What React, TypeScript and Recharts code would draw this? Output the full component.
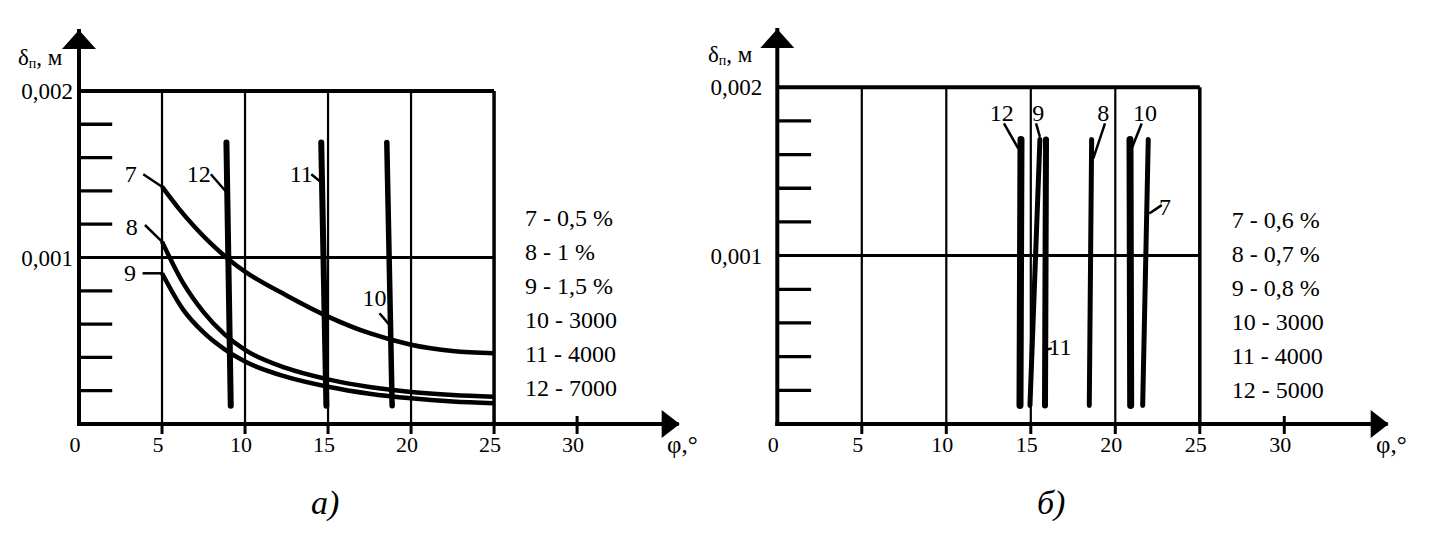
import { LineChart, Line, XAxis, YAxis, ReferenceLine, ReferenceDot, Legend } from "recharts";

const FONT = "'Liberation Serif', 'Times New Roman', serif";

// shared axes
const DEG_TICKS = [0, 5, 10, 15, 20, 25, 30];
const VALUE_TICKS = [0.001, 0.002];
const MINOR_TICKS = [0.0002, 0.0004, 0.0006, 0.0008, 0.0012, 0.0014, 0.0016, 0.0018];
const GRID_DEG = [5, 10, 15, 20];

// а) curves 7-9 (delta vs phi)
const a7 = [
  { x: 5, y: 0.001425 }, { x: 6, y: 0.001295 }, { x: 7, y: 0.00118 }, { x: 8, y: 0.001078 },
  { x: 9, y: 0.00099 }, { x: 10, y: 0.000915 }, { x: 12.5, y: 0.000772 }, { x: 15, y: 0.000645 },
  { x: 17.5, y: 0.000545 }, { x: 20, y: 0.000476 }, { x: 22.5, y: 0.000438 }, { x: 25, y: 0.000425 },
];
const a8 = [
  { x: 5, y: 0.001095 }, { x: 6.25, y: 0.00085 }, { x: 7.5, y: 0.000672 }, { x: 8.75, y: 0.00054 },
  { x: 10, y: 0.000445 }, { x: 12.5, y: 0.000335 }, { x: 15, y: 0.000268 }, { x: 17.5, y: 0.000222 },
  { x: 20, y: 0.000192 }, { x: 22.5, y: 0.000174 }, { x: 25, y: 0.000164 },
];
const a9 = [
  { x: 5, y: 0.000905 }, { x: 6.25, y: 0.00069 }, { x: 7.5, y: 0.00055 }, { x: 8.75, y: 0.00045 },
  { x: 10, y: 0.000375 }, { x: 12.5, y: 0.000283 }, { x: 15, y: 0.000224 }, { x: 17.5, y: 0.000182 },
  { x: 20, y: 0.000154 }, { x: 22.5, y: 0.000135 }, { x: 25, y: 0.000124 },
];
// а) lines 10-12
const a10 = [{ x: 18.54, y: 0.00169 }, { x: 18.86, y: 0.00011 }];
const a11 = [{ x: 14.59, y: 0.00169 }, { x: 14.9, y: 0.00011 }];
const a12 = [{ x: 8.88, y: 0.00169 }, { x: 9.14, y: 0.00011 }];

// б) lines 7-12
const b7 = [{ x: 21.95, y: 0.00169 }, { x: 21.62, y: 0.00011 }];
const b8 = [{ x: 18.6, y: 0.00169 }, { x: 18.46, y: 0.00011 }];
const b9 = [{ x: 15.54, y: 0.00169 }, { x: 14.95, y: 0.00011 }];
const b10 = [{ x: 20.87, y: 0.00169 }, { x: 20.91, y: 0.00011 }];
const b11 = [{ x: 15.9, y: 0.00169 }, { x: 15.84, y: 0.00011 }];
const b12 = [{ x: 14.42, y: 0.00169 }, { x: 14.36, y: 0.00011 }];

const NAMES_A = ["7 - 0,5 %", "8 - 1 %", "9 - 1,5 %", "10 - 3000", "11 - 4000", "12 - 7000"];
const NAMES_B = ["7 - 0,6 %", "8 - 0,7 %", "9 - 0,8 %", "10 - 3000", "11 - 4000", "12 - 5000"];

type Pt = { x: number; y: number };
interface Series { name: string; data: Pt[]; curve: boolean; w: number }
interface Note { text: string; at: Pt; from: Pt; to: Pt }

const SERIES_A: Series[] = [
  { name: NAMES_A[0], data: a7, curve: true, w: 4.5 },
  { name: NAMES_A[1], data: a8, curve: true, w: 4.5 },
  { name: NAMES_A[2], data: a9, curve: true, w: 4.5 },
  { name: NAMES_A[3], data: a10, curve: false, w: 5.5 },
  { name: NAMES_A[4], data: a11, curve: false, w: 6 },
  { name: NAMES_A[5], data: a12, curve: false, w: 6 },
];
const SERIES_B: Series[] = [
  { name: NAMES_B[0], data: b7, curve: false, w: 5 },
  { name: NAMES_B[1], data: b8, curve: false, w: 5 },
  { name: NAMES_B[2], data: b9, curve: false, w: 5 },
  { name: NAMES_B[3], data: b10, curve: false, w: 7 },
  { name: NAMES_B[4], data: b11, curve: false, w: 6 },
  { name: NAMES_B[5], data: b12, curve: false, w: 7 },
];

const NOTES_A: Note[] = [
  { text: "7", at: { x: 3.11, y: 0.0015 }, from: { x: 3.87, y: 0.0015 }, to: { x: 5, y: 0.001425 } },
  { text: "8", at: { x: 3.17, y: 0.001185 }, from: { x: 3.97, y: 0.001195 }, to: { x: 5, y: 0.001095 } },
  { text: "9", at: { x: 3.07, y: 0.000905 }, from: { x: 3.83, y: 0.000905 }, to: { x: 5, y: 0.000905 } },
  { text: "12", at: { x: 7.22, y: 0.0015 }, from: { x: 7.94, y: 0.0015 }, to: { x: 8.9, y: 0.00139 } },
  { text: "11", at: { x: 13.39, y: 0.0015 }, from: { x: 13.99, y: 0.0015 }, to: { x: 14.6, y: 0.00145 } },
  { text: "10", at: { x: 17.8, y: 0.000757 }, from: { x: 18.1, y: 0.000665 }, to: { x: 18.7, y: 0.000595 } },
];
const NOTES_B: Note[] = [
  { text: "12", at: { x: 13.28, y: 0.00185 }, from: { x: 13.41, y: 0.001785 }, to: { x: 14.26, y: 0.001636 } },
  { text: "9", at: { x: 15.44, y: 0.00185 }, from: { x: 15.31, y: 0.001785 }, to: { x: 15.54, y: 0.001705 } },
  { text: "8", at: { x: 19.29, y: 0.00185 }, from: { x: 19.39, y: 0.001785 }, to: { x: 18.7, y: 0.001577 } },
  { text: "10", at: { x: 21.76, y: 0.00185 }, from: { x: 21.56, y: 0.001785 }, to: { x: 20.97, y: 0.001636 } },
  { text: "7", at: { x: 22.94, y: 0.001286 }, from: { x: 22.75, y: 0.0013 }, to: { x: 22.01, y: 0.00125 } },
  { text: "11", at: { x: 16.73, y: 0.000459 }, from: { x: 16.24, y: 0.000449 }, to: { x: 15.96, y: 0.000443 } },
];

const fmt = (v: number) => v.toFixed(3).replace(".", ",");

function XTick(props: any) {
  const { x, y, payload } = props;
  const v = payload.value;
  const axisY = y - 12; // tickSize 10 + tickMargin 2
  return (
    <g>
      {v !== 0 && (
        <line x1={x} x2={x} y1={v === 30 ? axisY - 8 : axisY} y2={axisY + 10} stroke="#000" strokeWidth={3} />
      )}
      <text x={x - 4} y={axisY + 12} dy="0.71em" textAnchor="middle" fontSize={22} fontFamily={FONT} fill="#000">
        {v}
      </text>
    </g>
  );
}

const ArrowRight = (p: any) => (
  <path d={`M${p.cx + 3},${p.cy} L${p.cx - 15},${p.cy - 14} L${p.cx - 15},${p.cy + 14} Z`} fill="#000" />
);
const ArrowUp = (p: any) => (
  <path d={`M${p.cx},${p.cy - 1} L${p.cx - 17},${p.cy + 18} L${p.cx + 17},${p.cy + 18} Z`} fill="#000" />
);
const noteText = (t: string) => (p: any) => (
  <text x={p.cx} y={p.cy} textAnchor="middle" dominantBaseline="central" fontSize={24} fontFamily={FONT} fill="#000">
    {t}
  </text>
);

function LegendList(props: any) {
  const items = [...(props.payload || [])].sort(
    (a: any, b: any) => parseInt(a.value, 10) - parseInt(b.value, 10)
  );
  return (
    <div style={{ fontFamily: FONT, fontSize: 24, lineHeight: "34px", color: "#000", whiteSpace: "nowrap" }}>
      {items.map((it: any) => (
        <div key={it.value}>{it.value}</div>
      ))}
    </div>
  );
}

interface PanelProps {
  width: number;
  margin: { top: number; right: number; bottom: number; left: number };
  yAxisWidth: number;
  yTop: number;
  tickGap: number;
  series: Series[];
  notes: Note[];
  legendAt: { left: number; top: number };
}

function Panel({ width, margin, yAxisWidth, yTop, tickGap, series, notes, legendAt }: PanelProps) {
  return (
    <LineChart width={width} height={535} margin={margin}>
      <XAxis
        type="number"
        dataKey="x"
        domain={[0, 36]}
        ticks={DEG_TICKS}
        interval={0}
        allowDataOverflow
        height={30}
        axisLine={{ stroke: "#000", strokeWidth: 4, strokeLinecap: "square" }}
        tickLine={false}
        tickSize={10}
        tickMargin={2}
        tick={(p: any) => <XTick {...p} />}
      />
      <YAxis
        type="number"
        domain={[0, yTop]}
        ticks={VALUE_TICKS}
        interval={0}
        allowDataOverflow
        width={yAxisWidth}
        axisLine={{ stroke: "#000", strokeWidth: 4, strokeLinecap: "square" }}
        tickLine={false}
        tickSize={0}
        tickMargin={tickGap}
        tickFormatter={fmt}
        tick={{ fill: "#000", fontSize: 23, fontFamily: FONT }}
      />
      {GRID_DEG.map((d) => (
        <ReferenceLine key={"g" + d} segment={[{ x: d, y: 0 }, { x: d, y: 0.002 }]} stroke="#000" strokeWidth={2.2} />
      ))}
      <ReferenceLine segment={[{ x: 25, y: 0 }, { x: 25, y: 0.002 }]} stroke="#000" strokeWidth={3.5} />
      <ReferenceLine segment={[{ x: 0, y: 0.001 }, { x: 25, y: 0.001 }]} stroke="#000" strokeWidth={3} />
      <ReferenceLine segment={[{ x: 0, y: 0.002 }, { x: 25, y: 0.002 }]} stroke="#000" strokeWidth={4} />
      {MINOR_TICKS.map((v) => (
        <ReferenceLine key={"m" + v} segment={[{ x: 0, y: v }, { x: 2, y: v }]} stroke="#000" strokeWidth={3.3} />
      ))}
      {series.map((s) => (
        <Line
          key={s.name}
          name={s.name}
          data={s.data}
          dataKey="y"
          type={s.curve ? "monotone" : "linear"}
          stroke="#000"
          strokeWidth={s.w}
          strokeLinecap={s.curve ? "butt" : "round"}
          dot={false}
          activeDot={false}
          isAnimationActive={false}
        />
      ))}
      {notes.map((n) => (
        <ReferenceLine key={"l" + n.text} segment={[n.from, n.to]} stroke="#000" strokeWidth={2.5} />
      ))}
      {notes.map((n) => (
        <ReferenceDot key={"t" + n.text} x={n.at.x} y={n.at.y} r={0} ifOverflow="visible" shape={noteText(n.text)} />
      ))}
      <ReferenceDot x={36} y={0} r={0} ifOverflow="visible" shape={ArrowRight} />
      <ReferenceDot x={0} y={yTop} r={0} ifOverflow="visible" shape={ArrowUp} />
      <Legend
        layout="horizontal"
        verticalAlign="middle"
        align="center"
        wrapperStyle={{ left: legendAt.left, top: legendAt.top, width: 170, height: 210 }}
        content={(p: any) => <LegendList {...p} />}
      />
    </LineChart>
  );
}

const abs = (left: number, top: number): any => ({ position: "absolute", left, top });

export default function App() {
  const label = { fontFamily: FONT, fontSize: 22, color: "#000", lineHeight: "26px", whiteSpace: "nowrap" } as const;
  const caption = { fontFamily: FONT, fontSize: 34, fontStyle: "italic", color: "#000", lineHeight: "40px" } as const;
  return (
    <div style={{ position: "absolute", left: 0, top: 0, width: 1429, height: 535, background: "#fff", overflow: "hidden" }}>
      <div style={abs(0, 0)}>
        <Panel
          width={700}
          margin={{ top: 31, right: 23.3, bottom: 81, left: 0 }}
          yAxisWidth={79}
          yTop={0.00236}
          tickGap={6}
          series={SERIES_A}
          notes={NOTES_A}
          legendAt={{ left: 525, top: 201 }}
        />
      </div>
      <div style={abs(700, 0)}>
        <Panel
          width={729}
          margin={{ top: 30, right: 43.3, bottom: 81, left: 0 }}
          yAxisWidth={77.3}
          yTop={0.00234}
          tickGap={15}
          series={SERIES_B}
          notes={NOTES_B}
          legendAt={{ left: 531.7, top: 203 }}
        />
      </div>
      <div style={{ ...abs(18, 45), ...label, fontSize: 23 }}>
        δ<sub style={{ fontSize: 14, verticalAlign: "-3px" }}>п</sub>, м
      </div>
      <div style={{ ...abs(708, 42), ...label, fontSize: 23 }}>
        δ<sub style={{ fontSize: 14, verticalAlign: "-3px" }}>п</sub>, м
      </div>
      <div style={{ ...abs(667, 432), ...label, fontSize: 25 }}>φ,°</div>
      <div style={{ ...abs(1376, 432), ...label, fontSize: 25 }}>φ,°</div>
      <div style={{ ...abs(311, 483), ...caption }}>а)</div>
      <div style={{ ...abs(1037, 483), ...caption }}>б)</div>
    </div>
  );
}
